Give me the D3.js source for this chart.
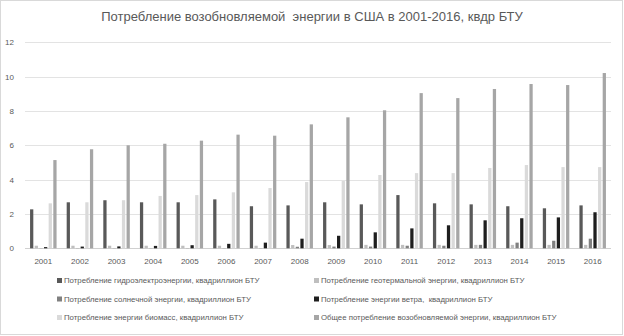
<!DOCTYPE html>
<html>
<head>
<meta charset="utf-8">
<script src="https://cdn.jsdelivr.net/npm/d3@7"></script>
<style>
  body { margin: 0; background: #fff; }
  svg { display: block; font-family: "Liberation Sans", Arial, sans-serif; }
  text { white-space: pre; }
</style>
</head>
<body>
<svg class="chart" width="624" height="336"></svg>
<script>
// data
var years = ["2001","2002","2003","2004","2005","2006","2007","2008",
             "2009","2010","2011","2012","2013","2014","2015","2016"];
var seriesNames = [
  "Потребление гидроэлектроэнергии, квадриллион БТУ",
  "Потребление геотермальной энергии, квадриллион БТУ",
  "Потребление солнечной энергии, квадриллион БТУ",
  "Потребление энергии ветра,  квадриллион БТУ",
  "Потребление энергии биомасс, квадриллион БТУ",
  "Общее потребление возобновляемой энергии, квадриллион БТУ"
];
var hydro      = [2.27, 2.68, 2.80, 2.68, 2.68, 2.85, 2.45, 2.50, 2.68, 2.56, 3.10, 2.62, 2.56, 2.45, 2.33, 2.50];
var geothermal = [0.15, 0.15, 0.15, 0.15, 0.15, 0.15, 0.15, 0.19, 0.19, 0.20, 0.20, 0.20, 0.20, 0.20, 0.20, 0.20];
var solar      = [0.01, 0.01, 0.01, 0.01, 0.01, 0.01, 0.01, 0.09, 0.10, 0.10, 0.15, 0.15, 0.20, 0.33, 0.44, 0.56];
var wind       = [0.07, 0.10, 0.11, 0.14, 0.18, 0.26, 0.33, 0.56, 0.73, 0.93, 1.16, 1.34, 1.63, 1.75, 1.80, 2.10];
var biomass    = [2.62, 2.68, 2.80, 3.05, 3.10, 3.26, 3.51, 3.86, 3.92, 4.27, 4.38, 4.38, 4.68, 4.85, 4.73, 4.73];
var total      = [5.14, 5.77, 6.00, 6.09, 6.27, 6.62, 6.56, 7.22, 7.63, 8.04, 9.04, 8.75, 9.28, 9.57, 9.51, 10.21];
var yTicks = [0, 2, 4, 6, 8, 10, 12];

var colors = ["#595959", "#bfbfbf", "#808080", "#1e1e1e", "#dadada", "#a6a6a6"];
var allSeries = [hydro, geothermal, solar, wind, biomass, total];

var svg = d3.select(".chart"),
    width = +svg.attr("width"),
    height = +svg.attr("height");

// outer border
svg.append("rect")
  .attr("x", 0.5).attr("y", 0.5)
  .attr("width", width - 2).attr("height", height - 2)
  .attr("fill", "#fff").attr("stroke", "#d9d9d9");

// title
svg.append("text")
  .attr("x", 312).attr("y", 21)
  .attr("text-anchor", "middle")
  .attr("fill", "#595959")
  .style("font-size", "13px")
  .text("Потребление возобновляемой  энергии в США в 2001-2016, квдр БТУ");

var plot = {left: 25, right: 611, top: 42.3, bottom: 248.3};

var x0 = d3.scaleBand().domain(years)
  .range([plot.left, plot.right])
  .paddingInner(0.2).paddingOuter(0.1);

var x1 = d3.scaleBand().domain(d3.range(6))
  .range([0, x0.bandwidth()])
  .padding(0.3);

var y = d3.scaleLinear().domain([0, 12]).range([plot.bottom, plot.top]);

// gridlines
svg.append("g").selectAll("line")
  .data(yTicks)
  .enter().append("line")
  .attr("x1", plot.left).attr("x2", plot.right)
  .attr("y1", function(d) { return Math.round(y(d)) + 0.5; })
  .attr("y2", function(d) { return Math.round(y(d)) + 0.5; })
  .attr("stroke", function(d) { return d === 0 ? "#d0d0d0" : "#e3e3e3"; })
  .attr("stroke-width", 1);

// y labels
svg.append("g").selectAll("text")
  .data(yTicks)
  .enter().append("text")
  .attr("x", 14)
  .attr("y", function(d) { return y(d) + 3; })
  .attr("text-anchor", "end")
  .attr("fill", "#595959")
  .style("font-size", "8px")
  .text(function(d) { return d; });

// x labels
svg.append("g").selectAll("text")
  .data(years)
  .enter().append("text")
  .attr("x", function(d) { return x0(d) + x0.bandwidth() / 2; })
  .attr("y", 264)
  .attr("text-anchor", "middle")
  .attr("fill", "#595959")
  .style("font-size", "8px")
  .text(function(d) { return d; });

// bars
var groups = svg.append("g").selectAll("g")
  .data(years)
  .enter().append("g")
  .attr("transform", function(d) { return "translate(" + x0(d) + ",0)"; });

groups.selectAll("rect")
  .data(function(d, i) {
    return allSeries.map(function(s, k) { return {k: k, v: s[i]}; });
  })
  .enter().append("rect")
  .attr("x", function(d) { return x1(d.k); })
  .attr("width", x1.bandwidth())
  .attr("y", function(d) { return y(d.v); })
  .attr("height", function(d) { return y(0) - y(d.v); })
  .attr("fill", function(d) { return colors[d.k]; });

// legend
var legend = svg.append("g").selectAll("g")
  .data(seriesNames)
  .enter().append("g")
  .attr("transform", function(d, i) {
    var col = i % 2, row = Math.floor(i / 2);
    return "translate(" + (col === 0 ? 57 : 314) + "," + (283 + row * 18.5) + ")";
  });

legend.append("rect")
  .attr("x", 0).attr("y", -5)
  .attr("width", 5).attr("height", 5)
  .attr("fill", function(d, i) { return colors[i]; });

legend.append("text")
  .attr("x", 7).attr("y", 0)
  .attr("fill", "#595959")
  .style("font-size", "7.8px")
  .text(function(d) { return d; });
</script>
</body>
</html>
